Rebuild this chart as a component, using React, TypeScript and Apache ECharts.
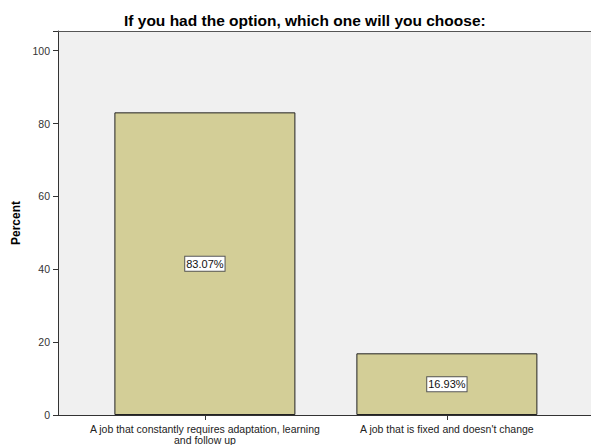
import React, { useEffect, useRef } from "react";
import * as echarts from "echarts";

const categories: string[] = [
  "A job that constantly requires adaptation, learning\nand follow up",
  "A job that is fixed and doesn't change",
];
const percents: number[] = [83.07, 16.93];
const yTicks: number[] = [0, 20, 40, 60, 80, 100];

export default function App() {
  const ref = useRef<HTMLDivElement | null>(null);

  useEffect(() => {
    if (!ref.current) return;
    const chart = echarts.init(ref.current, null, { renderer: "svg" });
    const idx = categories.map((_, i) => i);
    const font = "Arial, 'Liberation Sans', sans-serif";
    chart.setOption({
      animation: false,
      backgroundColor: "#ffffff",
      title: {
        text: "If you had the option, which one will you choose:",
        left: 119,
        top: 7,
        textStyle: {
          fontFamily: font,
          fontSize: 15.5,
          fontWeight: "bold",
          color: "#000",
        },
      },
      grid: {
        left: 58,
        top: 31,
        right: 0,
        bottom: 30,
        show: true,
        backgroundColor: "#f0f0f0",
        borderWidth: 0,
      },
      xAxis: [
        {
          type: "value",
          position: "bottom",
          min: -0.607,
          max: 1.5955,
          splitLine: { show: false },
          axisLine: { show: true, onZero: false, lineStyle: { color: "#333", width: 1 } },
          axisTick: {
            show: true,
            inside: false,
            customValues: idx,
            length: 5,
            lineStyle: { color: "#333" },
          },
          axisLabel: {
            customValues: idx,
            formatter: (v: number) => categories[Math.round(v)] ?? "",
            fontFamily: font,
            fontSize: 10.5,
            color: "#222",
            lineHeight: 11,
            margin: 8,
            align: "center",
          },
        },
        {
          type: "value",
          position: "top",
          min: -0.607,
          max: 1.5955,
          splitLine: { show: false },
          axisLine: { show: true, onZero: false, lineStyle: { color: "#555", width: 1 } },
          axisTick: { show: false },
          axisLabel: { show: false },
        },
      ],
      yAxis: {
        type: "value",
        position: "left",
        min: 0,
        max: 105.4,
        interval: 20,
        name: "Percent",
        nameLocation: "middle",
        nameGap: 34,
        nameTextStyle: {
          fontFamily: font,
          fontSize: 12,
          fontWeight: "bold",
          color: "#000",
        },
        splitLine: { show: false },
        axisLine: { show: true, onZero: false, lineStyle: { color: "#333", width: 1 } },
        axisTick: { show: true, inside: false, length: 5, lineStyle: { color: "#333" } },
        axisLabel: {
          formatter: (v: number) => (yTicks.includes(v) ? String(v) : ""),
          fontFamily: font,
          fontSize: 10.5,
          color: "#333",
          margin: 8,
        },
      },
      series: [
        {
          type: "bar",
          xAxisIndex: 0,
          data: percents.map((p, i) => [i, p]),
          barWidth: 181,
          itemStyle: {
            color: "#d3ce97",
            borderColor: "#222",
            borderWidth: 1,
          },
          label: {
            show: true,
            position: "inside",
            formatter: (p: any) => p.value[1].toFixed(2) + "%",
            fontFamily: font,
            fontSize: 11,
            color: "#111",
            backgroundColor: "#ffffff",
            borderColor: "#555",
            borderWidth: 1,
            padding: [2, 1, 1, 1],
          },
        },
      ],
    });
    return () => chart.dispose();
  }, []);

  return (
    <div
      ref={ref}
      style={{ position: "fixed", left: 0, top: 0, width: 591, height: 445 }}
    />
  );
}
